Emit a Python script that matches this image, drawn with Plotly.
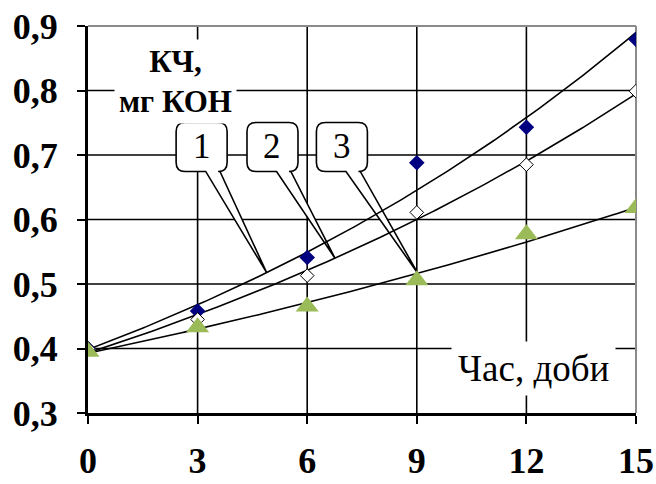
import numpy as np
import plotly.graph_objects as go

# Acid number (КЧ, mg KOH) measured over storage time (days)
days = [0, 3, 6, 9, 12, 15]
kch_1 = [0.400, 0.458, 0.541, 0.688, 0.743, 0.879]
kch_2 = [0.400, 0.445, 0.513, 0.611, 0.685, 0.799]
kch_3 = [0.395, 0.433, 0.465, 0.506, 0.577, 0.618]

y_ticks = [0.3, 0.4, 0.5, 0.6, 0.7, 0.8, 0.9]
y_tick_labels = ["0,3", "0,4", "0,5", "0,6", "0,7", "0,8", "0,9"]
x_ticks = [0, 3, 6, 9, 12, 15]
x_tick_labels = ["0", "3", "6", "9", "12", "15"]

callout_labels = ["1", "2", "3"]
# callout box centres (days, КЧ) and the day each pointer touches its curve
callout_box_x = [3.11, 5.05, 6.95]
callout_box_y = 0.7125
callout_tip_x = [4.89, 6.76, 9.03]

W, H = 656, 484
ML, MR, MT, MB = 88, 20, 26, 71
X_RANGE = (0, 15)
Y_RANGE = (0.3, 0.9)
PW, PH = W - ML - MR, H - MT - MB

SERIF = "Liberation Serif, Times New Roman, serif"


def exp_trend(x, y):
    """Exponential trendline y = a*exp(b*x), least squares on ln(y)."""
    b, ln_a = np.polyfit(np.asarray(x, float), np.log(np.asarray(y, float)), 1)
    return lambda t: np.exp(ln_a) * np.exp(b * np.asarray(t, float))


def data_to_px(x, y):
    px = ML + (x - X_RANGE[0]) / (X_RANGE[1] - X_RANGE[0]) * PW
    py = MT + (Y_RANGE[1] - y) / (Y_RANGE[1] - Y_RANGE[0]) * PH
    return px, py


def px_to_paper(px, py):
    return (px - ML) / PW, (H - MB - py) / PH


fig = go.Figure()

series = [kch_1, kch_2, kch_3]
trends = [exp_trend(days, s) for s in series]
t_line = np.linspace(0, 15, 200)

for f in trends:
    fig.add_trace(go.Scatter(
        x=t_line, y=f(t_line), mode="lines",
        line=dict(color="black", width=1.6),
        hoverinfo="skip", showlegend=False,
    ))

fig.add_trace(go.Scatter(
    x=days, y=kch_1, mode="markers", showlegend=False,
    marker=dict(symbol="diamond", size=12, color="#000080",
                line=dict(width=0)),
))
fig.add_trace(go.Scatter(
    x=days, y=kch_2, mode="markers", showlegend=False,
    marker=dict(symbol="diamond", size=10.5, color="white",
                line=dict(color="black", width=1)),
))
fig.add_trace(go.Scatter(
    x=days, y=kch_3, mode="markers", showlegend=False,
    marker=dict(symbol="triangle-up", size=20, color="#9BBB59",
                line=dict(width=0)),
))

shapes = []

# interior grid lines (black) drawn beneath the data
for xv in x_ticks[1:-1]:
    shapes.append(dict(type="line", xref="x", yref="paper", x0=xv, x1=xv, y0=0, y1=1,
                       line=dict(color="black", width=1.6), layer="below"))
for yv in y_ticks[1:-1]:
    shapes.append(dict(type="line", xref="paper", yref="y", x0=0, x1=1, y0=yv, y1=yv,
                       line=dict(color="black", width=1.6), layer="below"))

# grey frame on the top and right sides of the plot area
shapes.append(dict(type="line", xref="paper", yref="paper", x0=0, x1=1, y0=1, y1=1,
                   line=dict(color="#8a8a8a", width=2), layer="below"))
shapes.append(dict(type="line", xref="paper", yref="paper", x0=1, x1=1, y0=0, y1=1,
                   line=dict(color="#8a8a8a", width=2), layer="below"))

# rounded callout boxes with wedge pointers to the curves
BOX_W, BOX_H, R = 51, 49, 9
annotations = []
for label, bx, tx, f in zip(callout_labels, callout_box_x, callout_tip_x, trends):
    cx, cy = data_to_px(bx, callout_box_y)
    L, Rt = cx - BOX_W / 2, cx + BOX_W / 2
    T, B = cy - BOX_H / 2, cy + BOX_H / 2
    wl, wr = L + 0.58 * BOX_W, L + 0.86 * BOX_W
    tipx, tipy = data_to_px(tx, float(f(tx)))
    pts = [
        ("M", [(L + R, T)]),
        ("L", [(Rt - R, T)]),
        ("Q", [(Rt, T), (Rt, T + R)]),
        ("L", [(Rt, B - R)]),
        ("Q", [(Rt, B), (Rt - R, B)]),
        ("L", [(wr, B)]),
        ("L", [(tipx, tipy)]),
        ("L", [(wl, B)]),
        ("L", [(L + R, B)]),
        ("Q", [(L, B), (L, B - R)]),
        ("L", [(L, T + R)]),
        ("Q", [(L, T), (L + R, T)]),
    ]
    path = ""
    for cmd, ps in pts:
        coords = " ".join("{:.5f},{:.5f}".format(*px_to_paper(*p)) for p in ps)
        path += f"{cmd}{coords} "
    path += "Z"
    shapes.append(dict(type="path", xref="paper", yref="paper", path=path,
                       fillcolor="white", line=dict(color="black", width=1.6),
                       layer="below"))
    ax, ay = px_to_paper(cx, cy)
    annotations.append(dict(x=ax, y=ay, xref="paper", yref="paper",
                            text=label, showarrow=False,
                            xanchor="center", yanchor="middle",
                            font=dict(family=SERIF, size=35, color="black")))

# axis titles placed inside the plot area on white backgrounds
ax_, ay_ = px_to_paper(175, 82)
annotations.append(dict(x=ax_, y=ay_, xref="paper", yref="paper",
                        text="<b>КЧ,</b><br><b>мг КОН</b>", showarrow=False,
                        xanchor="center", yanchor="middle", align="center",
                        bgcolor="white", borderpad=4,
                        font=dict(family=SERIF, size=31, color="black")))
ax_, ay_ = px_to_paper(533, 368)
annotations.append(dict(x=ax_, y=ay_, xref="paper", yref="paper",
                        text="Час, доби", showarrow=False,
                        xanchor="center", yanchor="middle",
                        bgcolor="white", borderpad=6,
                        font=dict(family=SERIF, size=37, color="black")))

fig.update_layout(
    width=W, height=H,
    margin=dict(l=ML, r=MR, t=MT, b=MB, pad=0, autoexpand=False),
    paper_bgcolor="white", plot_bgcolor="white",
    showlegend=False,
    shapes=shapes, annotations=annotations,
)

fig.update_xaxes(
    range=list(X_RANGE), tickvals=x_ticks, ticktext=x_tick_labels,
    showline=True, linecolor="black", linewidth=3,
    ticks="outside", ticklen=8, tickwidth=2, tickcolor="black",
    showgrid=False, zeroline=False, automargin=False,
    ticklabelstandoff=6,
    tickfont=dict(family=SERIF, size=36, color="black", weight="bold"),
)
fig.update_yaxes(
    range=list(Y_RANGE), tickvals=y_ticks, ticktext=y_tick_labels,
    showline=True, linecolor="black", linewidth=3,
    ticks="outside", ticklen=8, tickwidth=2, tickcolor="black",
    showgrid=False, zeroline=False, automargin=False,
    ticklabelstandoff=12,
    tickfont=dict(family=SERIF, size=36, color="black", weight="bold"),
)

fig.write_html("out.html")
